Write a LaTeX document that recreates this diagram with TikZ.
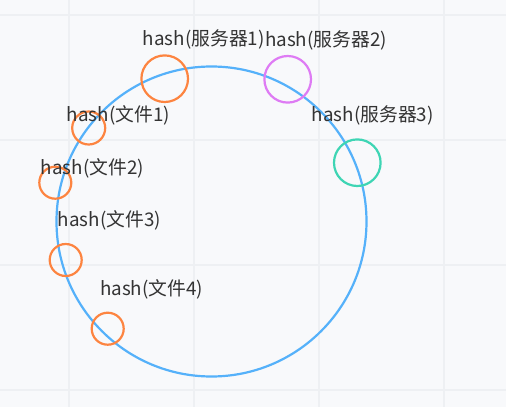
\documentclass[tikz,border=0pt]{standalone}
\usepackage{fontspec}
\setmainfont{Noto Sans CJK SC}
\definecolor{bg}{HTML}{F8F9FB}
\definecolor{gridc}{HTML}{EEF0F3}
\definecolor{ringc}{HTML}{55B1FA}
\definecolor{orangec}{HTML}{FD8440}
\definecolor{violetc}{HTML}{DE7BF4}
\definecolor{greenc}{HTML}{3ED5B4}
\definecolor{textc}{HTML}{333333}
\begin{document}
\begin{tikzpicture}[x=1pt,y=-1pt,
  lbl/.style={inner sep=0pt,text=textc,font=\fontsize{18.8}{20}\selectfont,anchor=west},
  dot/.style={circle,draw,line width=2.2pt,inner sep=0pt,minimum size=#1},
]
\fill[bg] (0,0) rectangle (506,407);
\useasboundingbox (0,0) rectangle (506,407);
\foreach \x in {69,194,319,444} \draw[gridc,line width=1.2pt] (\x,0) -- (\x,407);
\foreach \y in {15,140,265,390} \draw[gridc,line width=1.2pt] (0,\y) -- (506,\y);
\node[circle,draw=ringc,line width=2.2pt,inner sep=0pt,minimum size=310pt] (ring) at (211.5,221.5) {};
\node[dot=46.6pt,draw=orangec] (s1) at (164.7,78.7) {};
\node[dot=46.6pt,draw=violetc] (s2) at (287.7,79.3) {};
\node[dot=46.6pt,draw=greenc] (s3) at (357.3,162.7) {};
\node[dot=33pt,draw=orangec] (f1) at (88.7,128) {};
\node[dot=32pt,draw=orangec] (f2) at (55.3,182.7) {};
\node[dot=32pt,draw=orangec] (f3) at (65.7,260) {};
\node[dot=32pt,draw=orangec] (f4) at (107.7,328.7) {};
\node[lbl] (ls1) at (142.7,39.5) {hash(服务器1)};
\node[lbl] (ls2) at (265,40) {hash(服务器2)};
\node[lbl] (ls3) at (311.7,115.7) {hash(服务器3)};
\node[lbl] (lf1) at (66.7,115.7) {hash(文件1)};
\node[lbl] (lf2) at (40.7,168.3) {hash(文件2)};
\node[lbl] (lf3) at (57.7,220) {hash(文件3)};
\node[lbl] (lf4) at (100,289.3) {hash(文件4)};
\end{tikzpicture}
\end{document}
